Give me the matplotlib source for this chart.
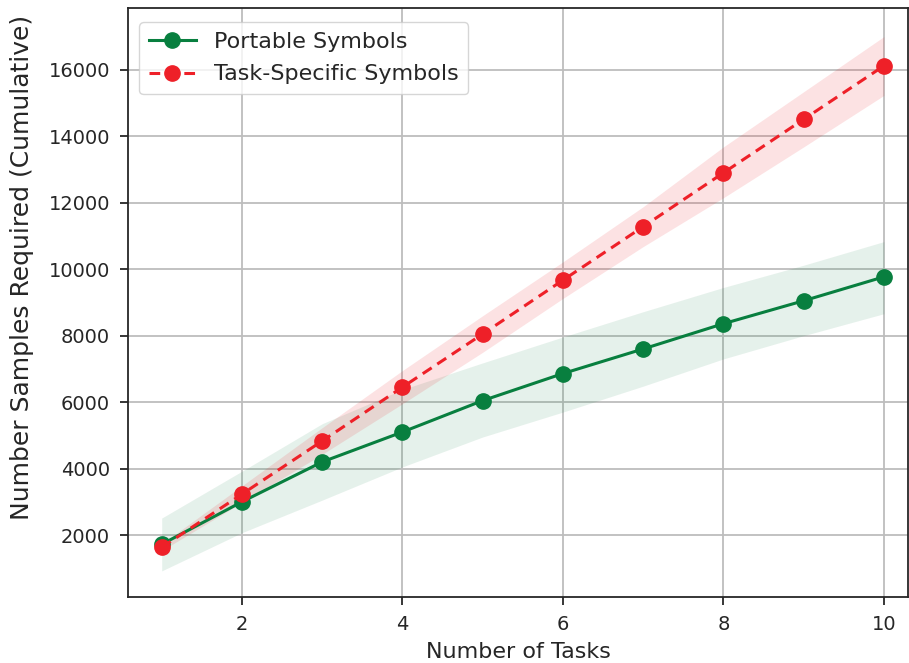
import matplotlib
matplotlib.use("Agg")
import matplotlib.pyplot as plt

tasks = [1, 2, 3, 4, 5, 6, 7, 8, 9, 10]

portable_mean = [1720, 3000, 4200, 5100, 6045, 6860, 7600, 8360, 9050, 9770]
portable_low = [920, 2070, 3050, 4050, 4950, 5700, 6480, 7300, 8000, 8660]
portable_high = [2510, 3920, 5350, 6380, 7180, 7960, 8720, 9450, 10120, 10830]

specific_mean = [1630, 3230, 4830, 6450, 8050, 9670, 11280, 12900, 14510, 16120]
specific_low = [1530, 2980, 4430, 5950, 7500, 9120, 10680, 12150, 13680, 15230]
specific_high = [1730, 3480, 5230, 6950, 8600, 10220, 11880, 13680, 15340, 17000]

GREEN = "#087f3f"
RED = "#ee2028"
TEXT = "#262626"

plt.rcParams["font.family"] = ["DejaVu Sans"]

fig = plt.figure(figsize=(9.09, 6.63), dpi=100)
ax = fig.add_axes([128 / 909, 1 - 597 / 663, (908 - 128) / 909, (597 - 8) / 663])

ax.fill_between(tasks, portable_low, portable_high, color=GREEN, alpha=0.1, linewidth=0)
ax.fill_between(tasks, specific_low, specific_high, color=RED, alpha=0.13, linewidth=0)
ax.plot(tasks, portable_mean, "-o", color=GREEN, lw=2.2, markersize=11, label="Portable Symbols")
ax.plot(tasks, specific_mean, "--o", color=RED, lw=2.2, markersize=11, label="Task-Specific Symbols",
        dashes=(3.5, 2.2))

ax.set_xlim(0.58, 10.3)
ax.set_ylim(135, 17860)
ax.set_xticks([2, 4, 6, 8, 10])
ax.set_yticks([2000, 4000, 6000, 8000, 10000, 12000, 14000, 16000])
ax.grid(True, color="#bdbdbd", linewidth=1.3)
ax.set_axisbelow(True)

for s in ax.spines.values():
    s.set_color(TEXT)
    s.set_linewidth(1.3)
ax.tick_params(direction="out", length=6, width=1.3, color=TEXT, labelcolor=TEXT, labelsize=14, pad=7)

ax.set_xlabel("Number of Tasks", fontsize=16, color=TEXT, labelpad=6)
ax.set_ylabel("Number Samples Required (Cumulative)", fontsize=18, color=TEXT)
ax.yaxis.set_label_coords(-0.12, 0.56)

leg = ax.legend(loc="upper left", fontsize=16, frameon=True, fancybox=True,
                borderpad=0.45, handlelength=2.1, handletextpad=0.8, labelspacing=0.55,
                bbox_to_anchor=(0.0, 0.995))
leg.get_frame().set_edgecolor("#cccccc")
for t in leg.get_texts():
    t.set_color(TEXT)

fig.savefig("out.png", dpi=100)
